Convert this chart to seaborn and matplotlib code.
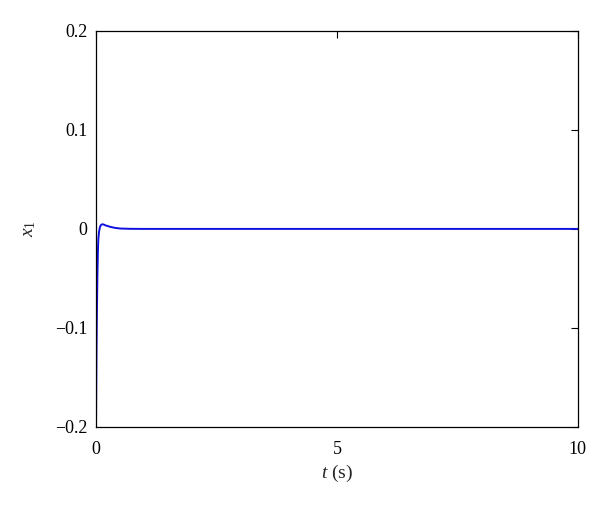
import numpy as np
import pandas as pd
import matplotlib
matplotlib.use('Agg')
import matplotlib.pyplot as plt
import seaborn as sns

# values
t_vals = [0, 0.005, 0.01, 0.015, 0.028, 0.04, 0.048, 0.06, 0.07, 0.083, 0.1, 0.12,
          0.14, 0.17, 0.2, 0.25, 0.3, 0.4, 0.5, 0.7, 1.0, 10]
x1_vals = [-0.2, -0.16, -0.125, -0.1, -0.05, -0.022, -0.011, -0.004, -0.001, 0.002,
           0.0038, 0.0045, 0.0047, 0.0042, 0.0035, 0.0028, 0.002, 0.001, 0.0004,
           0.0001, 0.0, 0.0]
x_ticks = [0, 5, 10]
y_ticks = [-0.2, -0.1, 0, 0.1, 0.2]
y_tick_labels = ['\u22120.2', '\u22120.1', '0', '0.1', '0.2']

df = pd.DataFrame({'t': t_vals, 'x1': x1_vals})

sns.set_style('white')
plt.rcParams['font.family'] = ['Liberation Serif', 'DejaVu Serif']
plt.rcParams['mathtext.fontset'] = 'custom'
plt.rcParams['mathtext.it'] = 'Liberation Serif:italic'
plt.rcParams['mathtext.rm'] = 'Liberation Serif'

fig = plt.figure(figsize=(6, 5.07), dpi=100)
ax = fig.add_axes([0.16, 0.158, 0.803, 0.781])

sns.lineplot(data=df, x='t', y='x1', ax=ax, color='#1010e0', linewidth=1.4)

ax.set_xlim(0, 10)
ax.set_ylim(-0.2, 0.2)
ax.set_xticks(x_ticks)
ax.set_yticks(y_ticks)
ax.set_yticklabels(y_tick_labels)
ax.tick_params(direction='in', top=True, right=True, length=5, width=0.8,
               labelsize=13, colors='black')
ax.tick_params(axis='x', pad=10)
ax.tick_params(axis='y', pad=6)
for s in ax.spines.values():
    s.set_color('black')
    s.set_linewidth(0.9)

ax.set_xlabel('$t$ (s)', fontsize=14, labelpad=4)
ax.set_ylabel('$x_1$', fontsize=14, labelpad=12)

fig.savefig('out.png', dpi=100)
